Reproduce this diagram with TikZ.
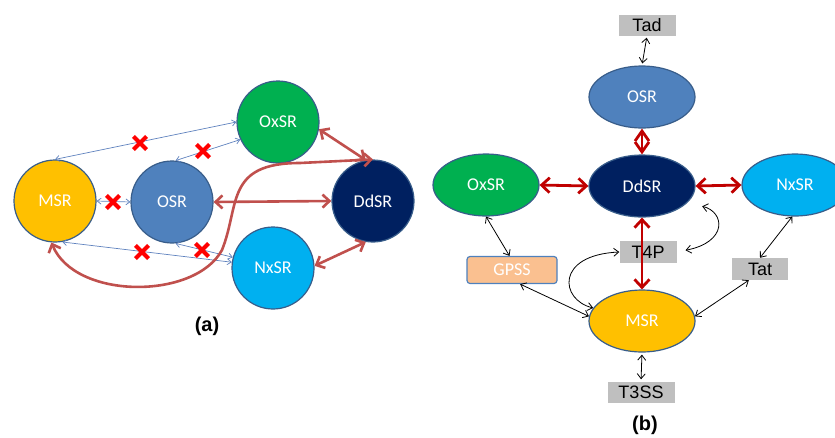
\documentclass[tikz,border=0pt]{standalone}
\usepackage{fontspec}
\setmainfont{Carlito}
\newfontfamily\arialfont{Liberation Sans}
\usetikzlibrary{arrows.meta,shapes.geometric,shapes.misc}
\definecolor{msr_gold}{RGB}{255,192,0}
\definecolor{osr_blue}{RGB}{79,129,189}
\definecolor{oxsr_green}{RGB}{0,176,80}
\definecolor{ddsr_navy}{RGB}{0,32,96}
\definecolor{nxsr_cyan}{RGB}{0,176,240}
\definecolor{rim_blue}{RGB}{56,93,138}
\definecolor{brick_red}{RGB}{192,80,77}
\definecolor{dark_red}{RGB}{192,0,0}
\definecolor{faint_blue}{RGB}{95,130,190}
\definecolor{box_gray}{RGB}{191,191,191}
\definecolor{gpss_peach}{RGB}{250,192,144}

\begin{document}
\begin{tikzpicture}[x=1pt,y=-1pt,
	sr/.style={circle,draw=rim_blue,line width=1.2pt,minimum size=82pt,inner sep=0pt,text=white,font=\fontsize{18}{21}\selectfont},
	srb/.style={ellipse,draw=rim_blue,line width=1.2pt,minimum width=106pt,minimum height=62pt,inner sep=0pt,text=white,font=\fontsize{18}{21}\selectfont},
	sysbox/.style={rectangle,fill=box_gray,minimum height=21pt,inner sep=0pt,font=\arialfont\fontsize{18}{21}\selectfont},
	redx/.style={cross out,draw=red,line width=4.2pt,minimum size=9pt,inner sep=0pt},
	weak/.style={faint_blue,line width=0.7pt,<->,>={Straight Barb[length=4pt,width=6pt]}},
	link/.style={brick_red,line width=2.6pt,<->,>={Straight Barb[length=7pt,width=13pt]}},
	bond/.style={dark_red,line width=2.8pt,<->,>={Straight Barb[length=8pt,width=15pt]}},
	tie/.style={black,line width=0.8pt,<->,>={Straight Barb[length=5pt,width=8pt]}},
	caption/.style={font=\arialfont\bfseries\fontsize{20}{24}\selectfont}]
	\useasboundingbox (0,0) rectangle (835,437);

	% (a)
	\node[sr,fill=msr_gold] (msrA) at (55,201) {MSR};
	\node[sr,fill=osr_blue] (osA) at (172,202) {OSR};
	\node[sr,fill=oxsr_green] (oxA) at (278,122) {OxSR};
	\node[sr,fill=nxsr_cyan] (nxA) at (273,268) {NxSR};
	\node[sr,fill=ddsr_navy] (ddA) at (373,201) {DdSR};

	\foreach \x/\y in {msrA.north/oxA.180,osA.85/oxA.205,msrA.east/osA.west,msrA.-80/nxA.172,osA.-85/nxA.165}
		\draw[weak] (\x) -- (\y);
	\foreach \n/\x/\y in {xa/140/143,xb/203/151,xc/113/202,xd/142/252,xe/202/250}
		\node[redx] (\n) at (\x,\y) {};

	\foreach \x/\y in {oxA.-10/ddA.100,osA.east/ddA.west,nxA.3/ddA.260}
		\draw[link] (\x) -- (\y);
	\draw[link] (msrA.265) .. controls (75,300) and (195,300) .. (222,250)
		.. controls (240,205) and (225,163) .. (300,163) -- (ddA.north);

	\node[caption] (capA) at (207,326) {(a)};

	% (b)
	\node[srb,fill=osr_blue] (osB) at (642,97) {OSR};
	\node[srb,fill=ddsr_navy] (ddB) at (642,186) {DdSR};
	\node[srb,fill=oxsr_green] (oxB) at (486,185) {OxSR};
	\node[srb,fill=nxsr_cyan] (nxB) at (795,185) {NxSR};
	\node[srb,fill=msr_gold] (msB) at (642,321) {MSR};

	\node[sysbox,minimum width=57pt] (tad) at (647,25) {Tad};
	\node[sysbox,minimum width=57pt,minimum height=22pt] (t4p) at (648,252) {T4P};
	\node[sysbox,minimum width=56pt,minimum height=22pt] (tat) at (760,269) {Tat};
	\node[sysbox,minimum width=67pt] (t3ss) at (641,392) {T3SS};
	\node[rectangle,rounded corners=3pt,draw=osr_blue,line width=1.2pt,fill=gpss_peach,minimum width=90pt,minimum height=27pt,text=white,font=\fontsize{18}{21}\selectfont] (gpss) at (512,270) {GPSS};

	\foreach \x/\y in {oxB.east/ddB.west,ddB.east/nxB.west,ddB.south/msB.north}
		\draw[bond] (\x) -- (\y);
	\draw[bond,>={Straight Barb[length=10pt,width=14pt]}] (osB.south) -- (ddB.north);

	\foreach \x/\y in {oxB.south/gpss.100,gpss.-60/msB.175,tat.north/nxB.265,tat.225/msB.5}
		\draw[tie] (\x) -- (\y);
	\draw[tie,shorten <=2pt,shorten >=2pt] (tad.south) -- (osB.north);
	\draw[tie,shorten <=2pt,shorten >=2pt] (msB.south) -- (t3ss.north);
	\draw[tie] (msB.165) .. controls (560,300) and (555,255) .. (t4p.west);
	\draw[tie,shorten <=15pt,shorten >=9pt] (ddB.-20) .. controls (725,212) and (728,242) .. (t4p.east);

	\node[caption] (capB) at (645,425) {(b)};
\end{tikzpicture}
\end{document}
